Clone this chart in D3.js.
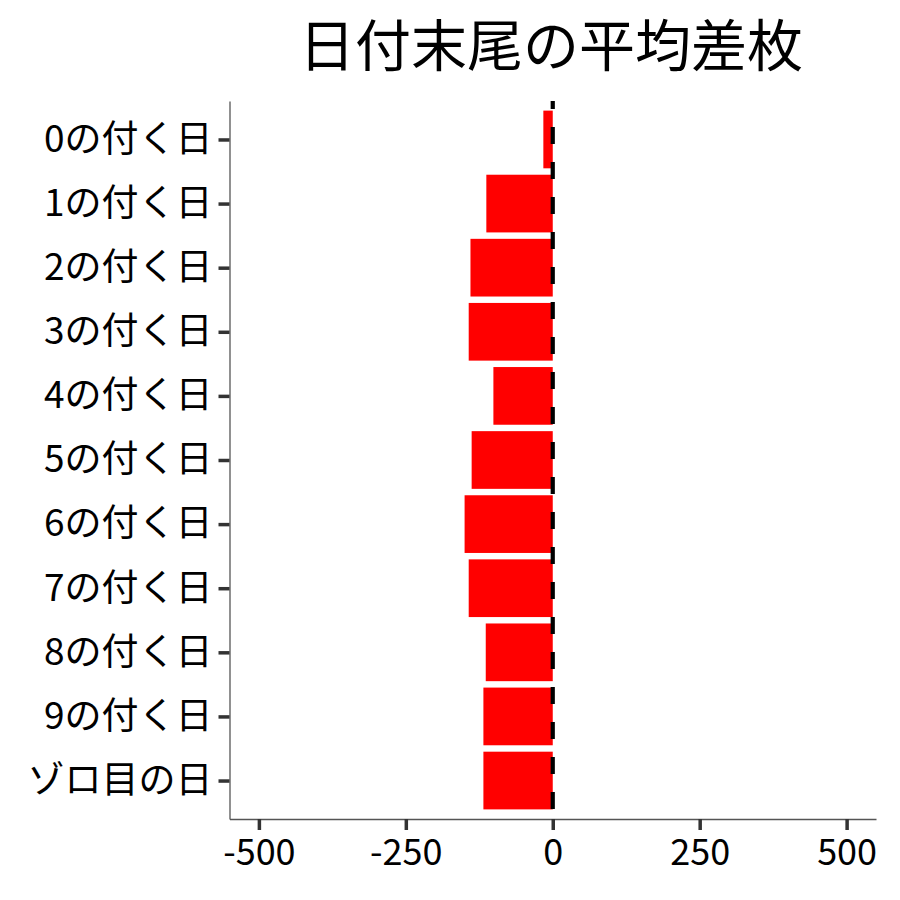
<!DOCTYPE html>
<html><head><meta charset="utf-8">
<script src="https://cdn.jsdelivr.net/npm/d3@7"></script>
<style>body{margin:0;background:#fff}svg{display:block}</style>
</head><body>
<script>
const categories = ["0の付く日","1の付く日","2の付く日","3の付く日","4の付く日","5の付く日","6の付く日","7の付く日","8の付く日","9の付く日","ゾロ目の日"];
const values = [-16,-113,-140,-143,-101,-138,-150,-143,-114,-118,-118];
const xTicks = [-500,-250,0,250,500];
const title = "日付末尾の平均差枚";

const W=900,H=900;
const m={left:229.5,right:24,top:101,bottom:81};
const font='"Noto Sans CJK JP","Noto Sans",sans-serif';
const svg=d3.select("body").append("svg").attr("width",W).attr("height",H);

const x=d3.scaleLinear().domain([-550,550]).range([m.left,W-m.right]);
const y=d3.scalePoint().domain(categories).range([m.top,H-m.bottom]).padding(0.6);
const bh=y.step()*0.9;

svg.append("g").selectAll("rect").data(categories).join("rect")
  .attr("x",(d,i)=>x(Math.min(0,values[i])))
  .attr("width",(d,i)=>Math.abs(x(values[i])-x(0)))
  .attr("y",d=>y(d)-bh/2).attr("height",bh)
  .attr("fill","#FF0000");

svg.append("line").attr("x1",x(0)).attr("x2",x(0))
  .attr("y1",m.top).attr("y2",H-m.bottom)
  .attr("stroke","#000").attr("stroke-width",4.2)
  .attr("stroke-dasharray","17,18").attr("stroke-dashoffset",9);

// axes
const ax=svg.append("g").attr("transform",`translate(0,${H-m.bottom})`)
  .call(d3.axisBottom(x).tickValues(xTicks).tickSize(11).tickSizeOuter(0).tickPadding(9).tickFormat(d3.format("d")));
const ay=svg.append("g").attr("transform",`translate(${m.left},0)`)
  .call(d3.axisLeft(y).tickSize(11).tickSizeOuter(0).tickPadding(6));
[ax,ay].forEach(g=>{
  g.select(".domain").attr("stroke","#555").attr("stroke-width",1.3);
  g.selectAll(".tick line").attr("stroke","#333").attr("stroke-width",3.5);
  g.selectAll(".tick text").attr("fill","#000").style("font-family",font);
});
ax.selectAll(".tick text").style("font-size","36px").text(d=>d<0?"-"+Math.abs(d):d);
ay.selectAll(".tick text").style("font-size","37px");

svg.append("text").attr("x",551).attr("y",66)
  .attr("text-anchor","middle").style("font-family",font).style("font-size","56px")
  .attr("fill","#000").text(title);
</script>
</body></html>
